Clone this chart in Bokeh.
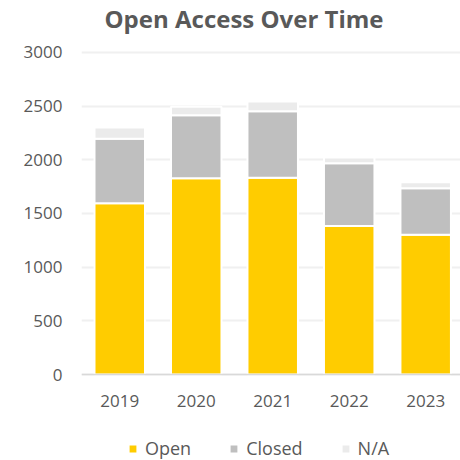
from bokeh.plotting import figure
from bokeh.models import Range1d, FixedTicker, Legend, LegendItem, ColumnDataSource, Label
from bokeh.embed import file_html
from bokeh.resources import INLINE

years = [2019, 2020, 2021, 2022, 2023]
open_vals = [1595, 1828, 1831, 1383, 1302]
closed_vals = [600, 585, 620, 583, 432]
na_vals = [105, 80, 92, 55, 55]
series = ["Open", "Closed", "N/A"]
colors = ["#FFCC00", "#BFBFBF", "#EBEBEB"]
y_ticks = [0, 500, 1000, 1500, 2000, 2500, 3000]
title_text = "Open Access Over Time"

# layout geometry (pixels): frame spans full height, value axis 0..3000 maps to rows 374..51.8
FRAME_H = 460
ZERO_ROW = 374.0
TOP_ROW = 51.8
k = (ZERO_ROW - TOP_ROW) / 3000.0
y_start = -(FRAME_H - ZERO_ROW) / k
y_end = ZERO_ROW / k

source = ColumnDataSource(dict(year=years, Open=open_vals, Closed=closed_vals, NA=na_vals))

p = figure(frame_width=379, frame_height=FRAME_H, output_backend="svg", toolbar_location=None,
           title=None,
           x_range=Range1d(2018.5, 2023.455), y_range=Range1d(y_start, y_end),
           min_border_left=81, min_border_right=0, min_border_top=0, min_border_bottom=0)
p.outline_line_color = None

renderers = p.vbar_stack(["Open", "Closed", "NA"], x="year", width=0.66, source=source,
                         fill_color=colors, line_color="white", line_width=2)

p.xaxis.fixed_location = 0
p.xaxis.ticker = FixedTicker(ticks=years)
p.xaxis.axis_line_color = "#D9D9D9"
p.xaxis.axis_line_width = 1.5
p.xaxis.major_tick_line_color = None
p.xaxis.minor_tick_line_color = None
p.xaxis.major_label_standoff = 14
p.xaxis.major_label_text_font = "Open Sans"
p.xaxis.major_label_text_font_size = "17px"
p.xaxis.major_label_text_color = "#595959"

p.yaxis.ticker = FixedTicker(ticks=y_ticks)
p.yaxis.axis_line_color = None
p.yaxis.major_tick_line_color = None
p.yaxis.minor_tick_line_color = None
p.yaxis.major_tick_out = 0
p.yaxis.major_label_standoff = 19
p.yaxis.major_label_text_font = "Open Sans"
p.yaxis.major_label_text_font_size = "17px"
p.yaxis.major_label_text_color = "#595959"

p.xgrid.grid_line_color = None
p.ygrid.grid_line_color = "#F0F0F0"
p.ygrid.grid_line_width = 2

title = Label(x=23, y=FRAME_H - 18, x_units="screen", y_units="screen", text=title_text,
              text_font="Open Sans", text_font_size="24px", text_font_style="bold",
              text_color="#595959", text_baseline="middle", text_align="left")
p.add_layout(title)

legend = Legend(items=[LegendItem(label=s, renderers=[r]) for s, r in zip(series, renderers)],
                orientation="horizontal", location=(46, 0))
legend.label_text_font = "Open Sans"
legend.label_text_font_size = "18px"
legend.label_text_color = "#595959"
legend.glyph_width = 11
legend.glyph_height = 11
legend.label_standoff = 7
legend.spacing = 37
legend.border_line_color = None
legend.background_fill_alpha = 0
legend.padding = 0
legend.margin = 0
p.add_layout(legend, "center")

open("out.html", "w").write(file_html(p, INLINE))
